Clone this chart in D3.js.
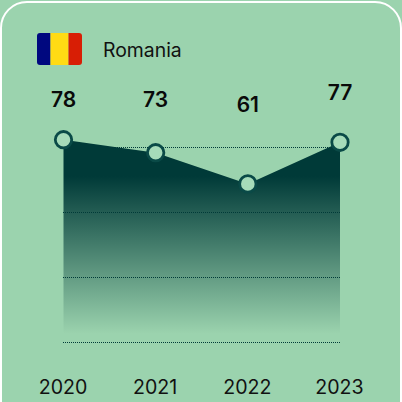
<!DOCTYPE html>
<html>
<head>
<meta charset="utf-8">
<style>
html, body { margin: 0; padding: 0; background: #9bd3ae; }
svg { display: block; }
text { font-family: Inter, sans-serif; }
</style>
<script src="https://d3js.org/d3.v7.min.js" charset="utf-8"></script>
</head>
<body>
<div id="chart"></div>
<script>
var country = "Romania";
var years = ["2020", "2021", "2022", "2023"];
var values = [78, 73, 61, 77];
var gridTicks = [0, 25, 50, 75];
var flagColors = ["#00087f", "#ffdb14", "#d81e05"];
// the value labels are not at one fixed distance from their points
var labelLift = [33, 46, 72, 42];

var WIDTH = 402, HEIGHT = 402;
var BG = "#9bd3ae", DARK = "#003a38";

var svg = d3.select("#chart").append("svg")
    .attr("width", WIDTH)
    .attr("height", HEIGHT);

var defs = svg.append("defs");
var grad = defs.append("linearGradient")
    .attr("id", "areaGrad")
    .attr("gradientUnits", "userSpaceOnUse")
    .attr("x1", 0).attr("x2", 0).attr("y1", 140).attr("y2", 342);
grad.append("stop").attr("offset", "0.18").attr("stop-color", DARK).attr("stop-opacity", 1);
grad.append("stop").attr("offset", "0.96").attr("stop-color", DARK).attr("stop-opacity", 0);

defs.append("clipPath").attr("id", "flagClip")
    .append("rect").attr("x", 37).attr("y", 33).attr("width", 45).attr("height", 32).attr("rx", 3);

// card outline, only the top edge shows
svg.append("rect")
    .attr("x", 1).attr("y", 2)
    .attr("width", WIDTH - 2).attr("height", HEIGHT + 40)
    .attr("rx", 26)
    .attr("fill", BG)
    .attr("stroke", "#fff")
    .attr("stroke-width", 2);

var x = d3.scalePoint().domain(years).range([63.5, 340]);
var y = d3.scaleLinear().domain([0, 75]).range([342.5, 147.5]);

// flag
var flagX = d3.scaleOrdinal().domain(flagColors).range([37, 50.5, 68.5]);
var flagW = d3.scaleOrdinal().domain(flagColors).range([13.5, 18, 13.5]);
svg.append("g").attr("clip-path", "url(#flagClip)")
    .selectAll("rect").data(flagColors).enter().append("rect")
    .attr("x", function(d) { return flagX(d); })
    .attr("y", 33)
    .attr("width", function(d) { return flagW(d); })
    .attr("height", 32)
    .attr("fill", function(d) { return d; });

svg.append("text")
    .attr("x", 103).attr("y", 56.5)
    .attr("font-size", 19.4)
    .attr("fill", "#111")
    .text(country);

// area
var rows = years.map(function(yr, i) { return {year: yr, value: values[i], lift: labelLift[i]}; });
var area = d3.area()
    .x(function(d) { return x(d.year); })
    .y0(y(0))
    .y1(function(d) { return y(d.value); });
svg.append("path").datum(rows)
    .attr("d", area)
    .attr("fill", "url(#areaGrad)");

// grid, x1 on a whole pixel so the dots stay crisp
svg.append("g").selectAll("line").data(gridTicks).enter().append("line")
    .attr("x1", 63).attr("x2", 341)
    .attr("y1", function(d) { return y(d); })
    .attr("y2", function(d) { return y(d); })
    .attr("stroke", DARK)
    .attr("stroke-width", 1)
    .attr("stroke-dasharray", "1 1");

// points
svg.append("g").selectAll("circle").data(rows).enter().append("circle")
    .attr("cx", function(d) { return x(d.year); })
    .attr("cy", function(d) { return y(d.value); })
    .attr("r", 8.2)
    .attr("fill", "#a6dbb9")
    .attr("stroke", "#0a4a47")
    .attr("stroke-width", 2.8);

// value labels
svg.append("g").selectAll("text").data(rows).enter().append("text")
    .attr("x", function(d) { return x(d.year); })
    .attr("y", function(d) { return y(d.value) - d.lift; })
    .attr("text-anchor", "middle")
    .attr("font-size", 21)
    .attr("font-weight", 600)
    .attr("fill", "#0a0a0a")
    .text(function(d) { return d.value; });

// year labels
svg.append("g").selectAll("text").data(years).enter().append("text")
    .attr("x", function(d) { return x(d) - 0.5; })
    .attr("y", 394)
    .attr("text-anchor", "middle")
    .attr("font-size", 19.6)
    .attr("fill", "#111")
    .text(function(d) { return d; });
</script>
</body>
</html>
